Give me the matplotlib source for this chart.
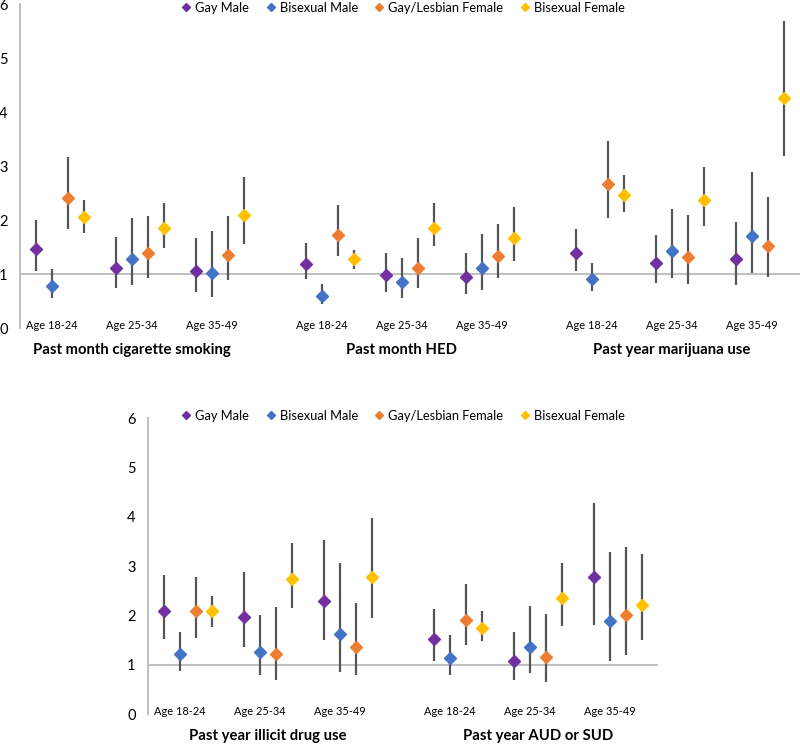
import matplotlib.pyplot as plt
from matplotlib.lines import Line2D

plt.rcParams['font.family'] = ['Lato', 'DejaVu Sans']

series = ["Gay Male", "Bisexual Male", "Gay/Lesbian Female", "Bisexual Female"]
colors = ["#7030A0", "#4472C4", "#ED7D31", "#FFC000"]
ages = ["Age 18-24", "Age 25-34", "Age 35-49"]

# estimates / lower / upper, rows = series, cols = age group
cig_est = [[1.46, 1.12, 1.06], [0.78, 1.27, 1.01], [2.40, 1.38, 1.35], [2.05, 1.85, 2.09]]
cig_lo = [[1.06, 0.75, 0.67], [0.56, 0.80, 0.58], [1.83, 0.92, 0.88], [1.76, 1.48, 1.55]]
cig_hi = [[2.00, 1.69, 1.67], [1.09, 2.03, 1.80], [3.16, 2.08, 2.07], [2.37, 2.31, 2.80]]

hed_est = [[1.19, 0.98, 0.94], [0.59, 0.85, 1.11], [1.73, 1.12, 1.34], [1.27, 1.86, 1.67]]
hed_lo = [[0.90, 0.67, 0.63], [0.44, 0.56, 0.70], [1.33, 0.75, 0.93], [1.10, 1.51, 1.24]]
hed_hi = [[1.58, 1.39, 1.39], [0.81, 1.30, 1.75], [2.27, 1.66, 1.93], [1.44, 2.31, 2.25]]

mj_est = [[1.39, 1.21, 1.27], [0.90, 1.42, 1.71], [2.67, 1.31, 1.52], [2.47, 2.37, 4.26]]
mj_lo = [[1.06, 0.84, 0.80], [0.69, 0.92, 1.01], [2.04, 0.82, 0.95], [2.14, 1.89, 3.19]]
mj_hi = [[1.83, 1.72, 1.97], [1.20, 2.20, 2.88], [3.47, 2.09, 2.42], [2.84, 2.98, 5.69]]

drug_est = [[2.08, 1.96, 2.29], [1.21, 1.26, 1.62], [2.08, 1.22, 1.35], [2.08, 2.73, 2.78]]
drug_lo = [[1.52, 1.35, 1.49], [0.88, 0.79, 0.86], [1.55, 0.69, 0.80], [1.77, 2.14, 1.94]]
drug_hi = [[2.82, 2.87, 3.52], [1.66, 2.01, 3.06], [2.77, 2.16, 2.26], [2.40, 3.47, 3.98]]

sud_est = [[1.52, 1.08, 2.78], [1.13, 1.35, 1.89], [1.91, 1.15, 2.01], [1.75, 2.35, 2.20]]
sud_lo = [[1.08, 0.69, 1.80], [0.79, 0.83, 1.08], [1.39, 0.64, 1.19], [1.47, 1.79, 1.50]]
sud_hi = [[2.12, 1.67, 4.27], [1.60, 2.18, 3.29], [2.64, 2.03, 3.38], [2.08, 3.07, 3.24]]

top_panels = [("Past month cigarette smoking", cig_est, cig_lo, cig_hi),
              ("Past month HED", hed_est, hed_lo, hed_hi),
              ("Past year marijuana use", mj_est, mj_lo, mj_hi)]
bottom_panels = [("Past year illicit drug use", drug_est, drug_lo, drug_hi),
                 ("Past year AUD or SUD", sud_est, sud_lo, sud_hi)]

SUB_W = 80      # width of one age slot
GAP = 30        # gap between outcome groups
STEP = 16       # offset between series inside a slot
GROUP_W = 3 * SUB_W + GAP


def draw(ax, panels, title_y, title_dx):
    for g, (title, est, lo, hi) in enumerate(panels):
        base = g * GROUP_W
        for a, age in enumerate(ages):
            center = base + SUB_W / 2 + a * SUB_W
            for s in range(len(series)):
                x = center + (s - 1.5) * STEP
                ax.vlines(x, lo[s][a], hi[s][a], color="#555555", lw=1.6, zorder=2)
                ax.plot(x, est[s][a], marker="D", ms=5.8, color=colors[s],
                        mec=colors[s], ls="none", zorder=3)
            ax.text(center - 8, 0.05, age, ha="center", va="center", fontsize=7.9)
        ax.text(base + 1.5 * SUB_W + title_dx, title_y, title, ha="center", va="center",
                fontsize=10.7, fontweight="bold")
    ax.axhline(1, color="#BFBFBF", lw=1.4, zorder=1)
    ax.set_xlim(0, len(panels) * GROUP_W - GAP)
    ax.set_ylim(0, 6)
    ax.set_xticks([])
    ax.set_yticks(range(7))
    ax.tick_params(axis="y", length=0, pad=9, labelsize=10.5)
    for sp in ["top", "right", "bottom"]:
        ax.spines[sp].set_visible(False)
    ax.spines["left"].set_color("#BFBFBF")
    ax.spines["left"].set_linewidth(1.4)


fig = plt.figure(figsize=(8, 7.44), dpi=100)
ax1 = fig.add_axes([20 / 800, 1 - 328 / 744, 780 / 800, 324 / 744])
ax2 = fig.add_axes([148 / 800, 1 - 714 / 744, 510 / 800, 296 / 744])

draw(ax1, top_panels, -0.41, -8)
draw(ax2, bottom_panels, -0.45, 0)

handles = [Line2D([], [], marker="D", ls="none", ms=4.2, color=c, mec=c) for c in colors]
for yc in [1 - 8 / 744, 1 - 416 / 744]:
    fig.legend(handles, series, loc="center", bbox_to_anchor=(0.504, yc), ncol=4,
               frameon=False, fontsize=9.3, handlelength=0.7, handletextpad=0.35,
               columnspacing=1.3)

fig.savefig("out.png", dpi=100)
